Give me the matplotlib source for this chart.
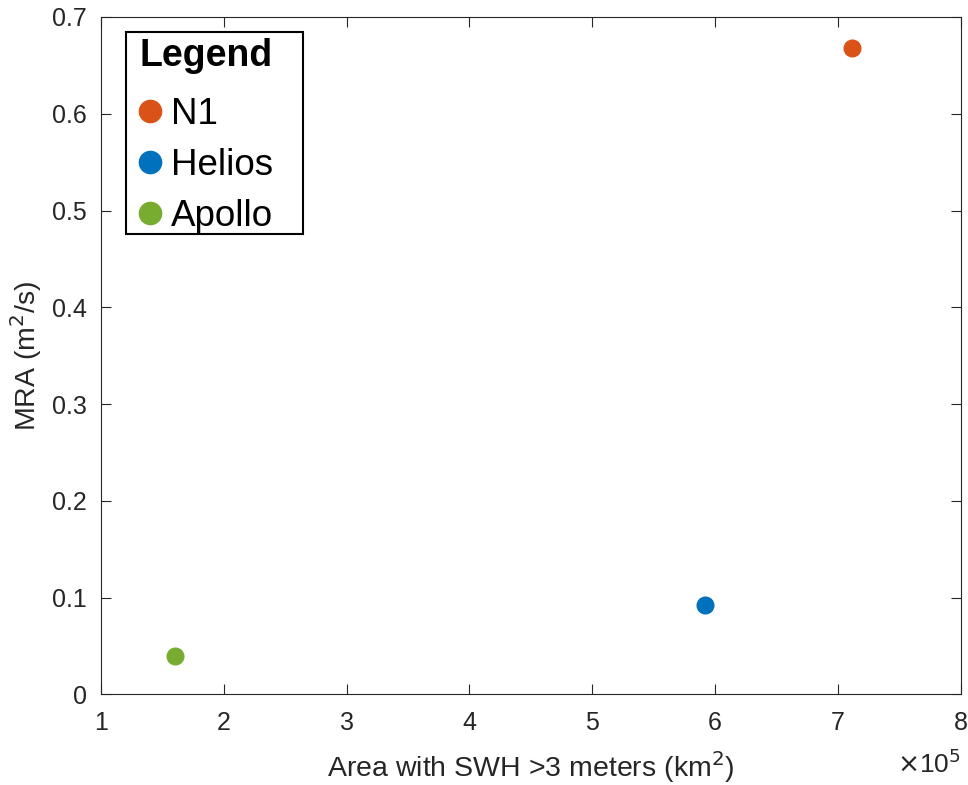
import matplotlib
matplotlib.use("Agg")
import matplotlib.pyplot as plt
from matplotlib.lines import Line2D
from matplotlib.patches import Rectangle

plt.rcParams['font.family'] = ['Liberation Sans', 'DejaVu Sans']

names = ["N1", "Helios", "Apollo"]
area = [7.115e5, 5.92e5, 1.60e5]
mra = [0.668, 0.092, 0.040]
colors = ["#D95319", "#0072BD", "#77AC30"]
xticks = [1, 2, 3, 4, 5, 6, 7, 8]
yticks = [0, 0.1, 0.2, 0.3, 0.4, 0.5, 0.6, 0.7]

W, H = 968, 785
fig = plt.figure(figsize=(W/100, H/100), dpi=100)
L, R, T, B = 101, 960.7, 17, 694.3
ax = fig.add_axes([L/W, 1-B/H, (R-L)/W, (B-T)/H])

def ax_xy(px, py):
    return ((px-L)/(R-L), (B-py)/(B-T))

for n, x, y, c in zip(names, area, mra, colors):
    ax.plot(x/1e5, y, 'o', color=c, markersize=12, linestyle='none')

ax.set_xlim(1, 8)
ax.set_ylim(0, 0.7)
ax.set_xticks(xticks)
ax.set_xticklabels([str(v) for v in xticks])
ax.set_yticks(yticks)
ax.set_yticklabels(["0"] + [f"{v:.1f}" for v in yticks[1:]])
gray = "#262626"
for s in ax.spines.values():
    s.set_color("#262626")
    s.set_linewidth(0.8)
ax.tick_params(direction='in', top=True, right=True, length=7, width=0.8,
               labelsize=18, colors=gray)
ax.tick_params(axis='x', pad=12)
ax.tick_params(axis='y', pad=10)
ax.set_xlabel("Area with SWH >3 meters (km$^2$)", fontsize=20.5, color=gray, labelpad=10)
ax.set_ylabel("MRA (m$^2$/s)", fontsize=20.5, color=gray, labelpad=6)
ax.text(*ax_xy(961, 773), r"$\times$10$^5$", transform=ax.transAxes, ha='right',
        va='baseline', fontsize=19, color=gray)

# legend frame
x0, y0 = ax_xy(126, 234)
x1, y1 = ax_xy(303, 32)
ax.add_patch(Rectangle((x0, y0), x1-x0, y1-y0, transform=ax.transAxes,
                       facecolor='white', edgecolor='black', linewidth=1.5, zorder=5))

handles = [Line2D([], [], marker='o', color=c, markersize=16, linestyle='none')
           for c in colors]
fs = 26.5
leg = ax.legend(handles, names, loc='upper left', bbox_to_anchor=ax_xy(132, 31),
                title="Legend", fontsize=fs, frameon=False,
                handletextpad=0.27, handlelength=0.6, borderpad=0.2,
                labelspacing=0.44, borderaxespad=0)
leg.get_title().set_fontweight('bold')
leg.get_title().set_fontsize(27)
leg._legend_box.align = "left"
leg._legend_box.sep = 0.44*fs + 4.5
leg.set_zorder(6)

fig.savefig("out.png", dpi=100)
